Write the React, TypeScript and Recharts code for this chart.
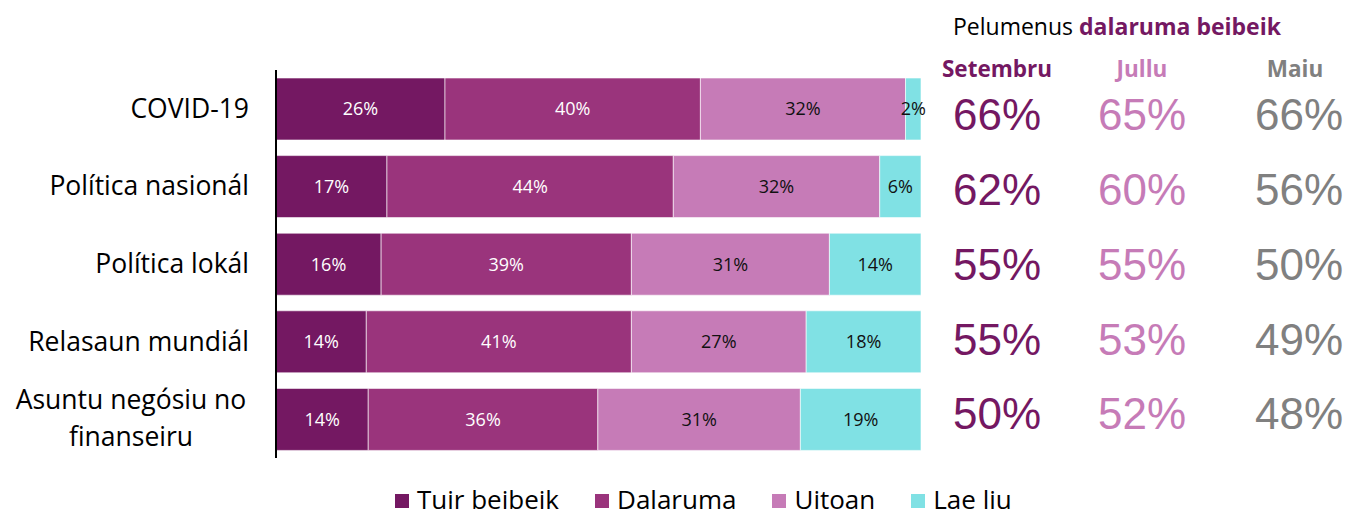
import React from "react";
import { Bar, BarChart, LabelList, Legend, XAxis, YAxis } from "recharts";

const categories = [
  "COVID-19",
  "Política nasionál",
  "Política lokál",
  "Relasaun mundiál",
  "Asuntu negósiu no\nfinanseiru",
];
const tuirBeibeik = [26.2, 17.2, 16.3, 14.0, 14.3];
const dalaruma = [39.6, 44.4, 38.8, 41.1, 35.6];
const uitoan = [31.8, 32.0, 30.7, 27.1, 31.4];
const laeLiu = [2.4, 6.4, 14.2, 17.8, 18.7];

const months = ["Setembru", "Jullu", "Maiu"];
const setembru = [66, 62, 55, 55, 50];
const jullu = [65, 60, 55, 53, 52];
const maiu = [66, 56, 50, 49, 48];
const trend = [setembru, jullu, maiu];

const series = [
  { key: "tuir", name: "Tuir beibeik", color: "#741862", label: "#ffffff" },
  { key: "dalaruma", name: "Dalaruma", color: "#9a347c", label: "#ffffff" },
  { key: "uitoan", name: "Uitoan", color: "#c67bb7", label: "#111111" },
  { key: "laeLiu", name: "Lae liu", color: "#80e1e4", label: "#111111" },
];

const data = categories.map((name, i) => ({
  name,
  tuir: tuirBeibeik[i],
  dalaruma: dalaruma[i],
  uitoan: uitoan[i],
  laeLiu: laeLiu[i],
}));

const SANS = "'Open Sans', sans-serif";
const ARIAL = "'Liberation Sans', Arial, sans-serif";
const COL_X = [997, 1142, 1299];
const COL_COLORS = ["#741862", "#c67bb7", "#808080"];

// category names, right aligned; the long one wraps onto two centred lines
const LeftTick = ({ y, payload }: any) => {
  const lines = String(payload.value).split("\n");
  if (lines.length === 1) {
    return (
      <text x={249} y={y} dy={9} textAnchor="end" fontSize={26.5} fontFamily={SANS} fill="#000">
        {lines[0]}
      </text>
    );
  }
  return (
    <text x={131} y={y} textAnchor="middle" fontSize={26.5} fontFamily={SANS} fill="#000">
      {lines.map((l, k) => (
        <tspan key={k} x={131} dy={k === 0 ? -10.5 : 37}>
          {l}
        </tspan>
      ))}
    </text>
  );
};

// the three month columns on the right
const RightTick = ({ y, payload }: any) => {
  const i = categories.indexOf(payload.value);
  return (
    <g>
      {trend.map((col, c) => (
        <text
          key={c}
          x={COL_X[c]}
          y={y}
          dy={15.8}
          textAnchor="middle"
          fontSize={44}
          fontFamily={ARIAL}
          fill={COL_COLORS[c]}
        >
          {col[i]}%
        </text>
      ))}
    </g>
  );
};

const LegendContent = ({ payload }: any) => {
  const items = [...(payload || [])].sort(
    (a: any, b: any) =>
      series.findIndex((s) => s.name === a.value) - series.findIndex((s) => s.name === b.value)
  );
  return (
    <div
      style={{
        height: 55,
        display: "flex",
        alignItems: "flex-end",
        paddingLeft: 395,
        paddingBottom: 1,
        boxSizing: "border-box",
        fontFamily: SANS,
        fontSize: 26,
        lineHeight: "26px",
        color: "#000",
      }}
    >
      {items.map((p: any) => (
        <div key={p.value} style={{ display: "flex", alignItems: "center", marginRight: 36 }}>
          <span style={{ width: 14, height: 14, background: p.color, marginRight: 8, marginTop: 4 }} />
          <span>{p.value}</span>
        </div>
      ))}
    </div>
  );
};

export default function App() {
  return (
    <div style={{ position: "absolute", left: 0, top: 0, width: 1349, height: 513 }}>
      <BarChart
        width={1349}
        height={513}
        data={data}
        layout="vertical"
        margin={{ top: 70, right: 0, bottom: 0, left: 0 }}
        barSize={62}
      >
        <XAxis type="number" domain={[0, 100]} hide />
        <YAxis
          type="category"
          dataKey="name"
          width={276}
          axisLine={{ stroke: "#000", strokeWidth: 2 }}
          tickLine={false}
          tick={<LeftTick />}
        />
        <YAxis
          yAxisId="right"
          type="category"
          dataKey="name"
          orientation="right"
          width={428}
          axisLine={false}
          tickLine={false}
          padding={{ top: 7, bottom: 7 }}
          tick={<RightTick />}
        />
        <Legend verticalAlign="bottom" content={<LegendContent />} />
        {series.map((s) => (
          <Bar
            key={s.key}
            dataKey={s.key}
            name={s.name}
            stackId="a"
            fill={s.color}
            stroke="#ffffff"
            strokeWidth={0.6}
            isAnimationActive={false}
          >
            <LabelList
              dataKey={s.key}
              position="center"
              fill={s.label}
              fontSize={18}
              fontFamily={SANS}
              formatter={(v: any) => `${Math.round(Number(v))}%`}
            />
          </Bar>
        ))}
      </BarChart>
      <svg
        width={1349}
        height={90}
        style={{ position: "absolute", left: 0, top: 0, pointerEvents: "none" }}
      >
        <text x={953} y={35} fontSize={23} fontFamily={SANS} fill="#000">
          Pelumenus{" "}
          <tspan fontWeight="bold" fill="#741862">
            dalaruma beibeik
          </tspan>
        </text>
        {months.map((m, c) => (
          <text
            key={m}
            x={c === 2 ? 1295 : COL_X[c]}
            y={77}
            textAnchor="middle"
            fontSize={22.5}
            fontWeight="bold"
            fontFamily={SANS}
            fill={COL_COLORS[c]}
          >
            {m}
          </text>
        ))}
      </svg>
    </div>
  );
}
